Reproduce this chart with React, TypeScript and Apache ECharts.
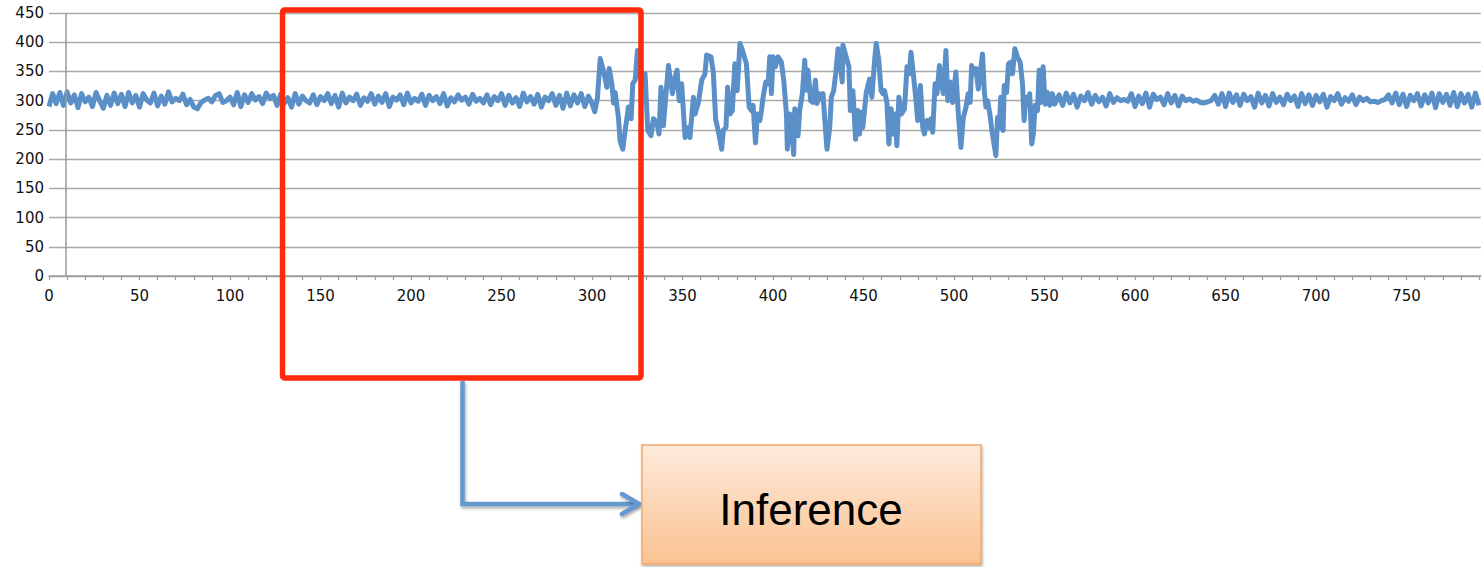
import React, { useEffect, useRef } from "react";
import * as echarts from "echarts";

// y values sampled every 2 units, x = 0 .. 300
const calmStart = [
  290, 312, 295, 314, 292, 315, 296, 310, 288, 312,
  298, 306, 290, 314, 300, 287, 309, 292, 313, 295,
  311, 290, 314, 296, 309, 289, 312, 301, 296, 313,
  291, 308, 294, 315, 298, 304, 300, 311, 293, 302,
  289, 286, 297, 301, 304, 298, 309, 312, 297, 300,
  306, 293, 314, 290, 310, 297, 312, 301, 307, 295,
  313, 304, 309, 292, 311, 296, 305, 289, 312, 294,
  308, 300, 296, 310, 293, 307, 300, 312, 295, 309,
  289, 313, 296, 306, 300, 311, 292, 305, 299, 312,
  294, 308, 297, 312, 290, 306, 301, 310, 293, 313,
  296, 304, 299, 311, 292, 309, 300, 307, 295, 312,
  291, 305, 298, 310, 301, 306, 294, 311, 299, 304,
  296, 310, 293, 307, 300, 312, 292, 309, 296, 305,
  290, 313, 298, 307, 294, 311, 289, 306, 300, 312,
  292, 309, 287, 313, 291, 310, 296, 312, 290, 308,
  295,
];
const calmStartFirstX = 0;
const calmStep = 2;

// irregular burst segment: x positions and values
const burstX = [
  301.5, 303.0, 304.5, 306.4, 308.2, 309.5, 311.0, 311.9, 312.8, 314.6,
  315.5, 317.0, 318.3, 320.1, 321.6, 322.5, 323.8, 325.1, 326.5, 329.3,
  330.8, 332.6, 333.9, 335.8, 337.0, 338.1, 339.4, 340.7, 342.2, 343.1,
  344.4, 345.9, 347.0, 348.1, 349.5, 351.4, 353.2, 354.1, 356.0, 356.9,
  358.7, 360.6, 362.4, 363.3, 365.7, 367.0, 368.3, 369.7, 371.6, 372.5,
  374.0, 374.9, 376.2, 377.5, 378.9, 380.2, 381.7, 383.1, 385.3, 386.8,
  388.1, 389.0, 390.3, 391.4, 392.7, 393.6, 394.5, 396.0, 397.3, 398.2,
  399.1, 400.0, 401.3, 402.8, 404.6, 405.9, 407.4, 407.9, 409.2, 410.5,
  411.4, 412.0, 412.9, 413.8, 414.7, 416.2, 417.5, 418.4, 419.3, 420.8,
  422.1, 423.4, 424.3, 425.4, 426.7, 427.6, 428.5, 429.8, 431.3, 432.2,
  433.5, 434.6, 435.9, 437.1, 438.2, 438.6, 440.4, 441.9, 442.7, 444.1,
  445.6, 446.9, 447.8, 448.7, 449.6, 451.5, 453.3, 454.6, 456.1, 457.0,
  458.4, 459.7, 460.7, 461.6, 462.9, 464.0, 465.2, 466.5, 467.6, 468.4,
  469.5, 470.8, 472.6, 474.0, 475.3, 476.2, 477.5, 479.0, 479.9, 481.4,
  482.7, 483.6, 485.1, 486.4, 487.3, 488.2, 489.5, 490.6, 491.9, 492.8,
  494.1, 495.5, 496.5, 497.9, 499.2, 501.0, 502.5, 503.8, 505.1, 506.6,
  507.8, 508.9, 509.7, 510.8, 512.1, 513.4, 514.5, 515.7, 516.7, 517.6,
  518.5, 519.8, 520.9, 522.2, 523.1, 524.0, 524.9, 525.8, 527.1, 527.7,
  529.0, 530.1, 531.4, 532.3, 533.6, 535.0, 536.5, 537.8, 538.7, 539.6,
  540.9, 541.8, 542.9, 543.8, 544.8, 546.1, 547.0, 547.9, 549.2, 550.3,
  551.6, 552.9, 554.3, 555.6, 557.1,
];
const burstY = [
  281, 305, 372, 350, 323, 355, 328, 296, 314, 271,
  231, 217, 249, 289, 269, 329, 335, 386, 340, 346,
  249, 240, 269, 263, 243, 323, 257, 306, 360, 340,
  312, 340, 352, 300, 329, 237, 254, 237, 306, 277,
  296, 335, 346, 378, 375, 349, 268, 249, 217, 249,
  254, 323, 277, 283, 363, 317, 398, 386, 363, 289,
  283, 292, 228, 277, 266, 283, 306, 332, 329, 375,
  312, 375, 358, 375, 366, 335, 277, 217, 277, 243,
  208, 286, 277, 240, 283, 312, 369, 318, 352, 300,
  297, 335, 295, 312, 303, 312, 271, 217, 254, 306,
  317, 346, 389, 363, 332, 395, 375, 358, 283, 317,
  234, 283, 243, 280, 254, 314, 337, 306, 369, 398,
  369, 317, 312, 317, 297, 226, 286, 243, 277, 223,
  306, 277, 286, 358, 346, 383, 346, 300, 266, 326,
  254, 243, 266, 254, 269, 246, 329, 312, 360, 335,
  312, 386, 300, 332, 297, 349, 271, 220, 271, 289,
  312, 297, 360, 346, 355, 320, 349, 380, 317, 289,
  300, 277, 249, 223, 206, 271, 252, 306, 249, 326,
  314, 363, 366, 346, 389, 375, 366, 329, 266, 306,
  294, 312, 226, 243, 292, 283, 352, 297, 358, 294,
  314, 292, 312, 294, 303,
];

// y values sampled every 2 units, x = 558 .. 790
const calmEnd = [
  310, 292, 313, 296, 311, 289, 308, 300, 314, 294,
  309, 298, 306, 291, 312, 297, 305, 300, 302, 299,
  312, 290, 308, 295, 313, 289, 311, 302, 306, 293,
  312, 296, 309, 291, 308, 300, 303, 299, 301, 297,
  296, 298, 300, 309, 294, 312, 290, 313, 297, 310,
  292, 311, 300, 307, 289, 313, 296, 309, 291, 312,
  297, 306, 293, 311, 300, 308, 290, 312, 295, 310,
  292, 309, 298, 311, 289, 307, 300, 312, 294, 305,
  299, 310, 293, 306, 300, 304, 298, 299, 297, 300,
  302, 310, 296, 313, 293, 311, 290, 309, 300, 312,
  291, 310, 296, 313, 288, 312, 297, 311, 292, 314,
  290, 312, 296, 311, 289, 313, 292,
];
const calmEndFirstX = 558;

const xMax = 791;
const yAxisCrossX = 9;
const labelFont = "DejaVu Sans";

export default function App() {
  const ref = useRef<HTMLDivElement>(null);

  useEffect(() => {
    if (!ref.current) return;
    const chart = echarts.init(ref.current, null, { renderer: "svg" });

    const data: number[][] = [];
    calmStart.forEach((v, i) => data.push([calmStartFirstX + i * calmStep, v]));
    burstX.forEach((x, i) => data.push([x, burstY[i]]));
    calmEnd.forEach((v, i) => data.push([calmEndFirstX + i * calmStep, v]));

    const lineBlue = "#5b8fc8";

    chart.setOption({
      animation: false,
      backgroundColor: "#ffffff",
      grid: { left: 49, right: 0, top: 13, bottom: 291, containLabel: false },
      xAxis: {
        type: "value",
        min: 0,
        max: xMax,
        interval: 10,
        axisLine: { show: true, lineStyle: { color: "#9a9a9a", width: 1.5 } },
        axisTick: { show: true, length: 4, lineStyle: { color: "#9a9a9a", width: 1.2 } },
        splitLine: { show: false },
        axisLabel: {
          margin: 12,
          fontSize: 15,
          fontFamily: labelFont,
          color: "#111",
          showMaxLabel: false,
          formatter: (v: number) => (v % 50 === 0 ? String(v) : ""),
        },
      },
      yAxis: {
        type: "value",
        min: 0,
        max: 450,
        interval: 50,
        axisLine: { show: false },
        axisTick: { show: false },
        splitLine: { show: true, lineStyle: { color: "#a8a8a8", width: 1.3 } },
        axisLabel: {
          margin: 5,
          fontSize: 15,
          fontFamily: labelFont,
          color: "#111",
        },
      },
      series: [
        {
          type: "line",
          z: 1,
          data: [],
          silent: true,
          markLine: {
            silent: true,
            symbol: ["none", "none"],
            label: { show: false },
            lineStyle: { color: "#9a9a9a", width: 1.5, type: "solid" },
            data: [{ xAxis: yAxisCrossX }],
          },
        },
        {
          type: "line",
          z: 3,
          data,
          showSymbol: false,
          symbol: "none",
          lineStyle: { color: lineBlue, width: 5, join: "round" },
          itemStyle: { color: lineBlue },
        },
      ],
      graphic: [
        {
          type: "rect",
          z: 100,
          shape: { x: 282.5, y: 10, width: 358.5, height: 368, r: 2 },
          style: { fill: "none", stroke: "#ff2a0a", lineWidth: 5.5 },
        },
        {
          type: "polyline",
          z: 90,
          shape: { points: [[462.5, 381], [462.5, 504], [638, 504]] },
          style: {
            fill: "none",
            stroke: "#6598cf",
            lineWidth: 4.5,
            shadowBlur: 3,
            shadowColor: "rgba(0,0,0,0.35)",
            shadowOffsetX: 1,
            shadowOffsetY: 2,
          },
        },
        {
          type: "polyline",
          z: 90,
          shape: { points: [[622, 494], [639, 504], [622, 514]] },
          style: {
            fill: "none",
            stroke: "#6598cf",
            lineWidth: 4.5,
            lineCap: "round",
            lineJoin: "round",
            shadowBlur: 3,
            shadowColor: "rgba(0,0,0,0.35)",
            shadowOffsetX: 1,
            shadowOffsetY: 2,
          },
        },
        {
          type: "rect",
          z: 95,
          shape: { x: 642, y: 445, width: 339, height: 119 },
          style: {
            fill: new echarts.graphic.LinearGradient(0, 0, 0, 1, [
              { offset: 0, color: "#fdeadb" },
              { offset: 1, color: "#fbc291" },
            ]),
            stroke: "#f6a765",
            lineWidth: 1.5,
            shadowBlur: 3,
            shadowColor: "rgba(0,0,0,0.3)",
            shadowOffsetX: 1,
            shadowOffsetY: 2,
          },
        },
        {
          type: "text",
          z: 96,
          x: 811,
          y: 509,
          style: {
            text: "Inference",
            fill: "#000000",
            font: '44px "Liberation Sans", sans-serif',
            align: "center",
            verticalAlign: "middle",
          },
        },
      ],
    });

    return () => chart.dispose();
  }, []);

  return (
    <div
      ref={ref}
      style={{ position: "absolute", left: 0, top: 0, width: 1482, height: 567 }}
    />
  );
}
